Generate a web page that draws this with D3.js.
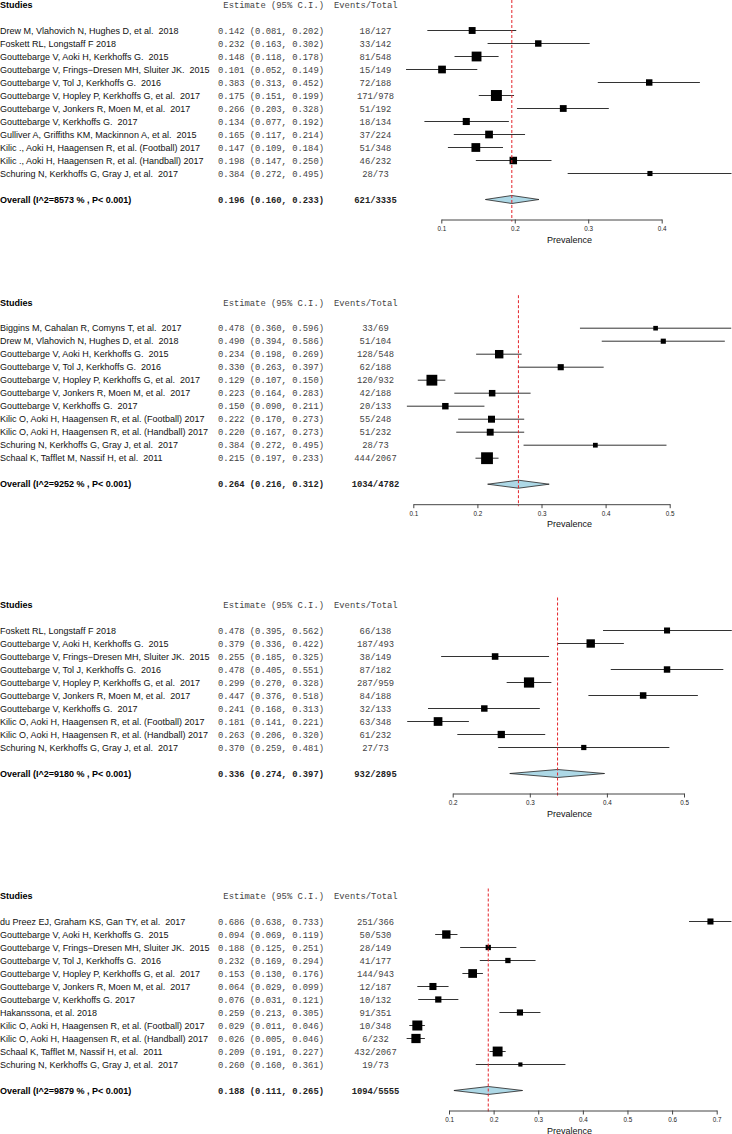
<!DOCTYPE html>
<html>
<head>
<meta charset="utf-8">
<script src="https://cdn.jsdelivr.net/npm/d3@7"></script>
<style>
  html, body { margin: 0; padding: 0; background: #fff; }
  svg text { white-space: pre; }
</style>
</head>
<body>
<div id="chart"></div>
<script>
// ---------------- DATA ----------------
// Panel 1
const p1Studies = [
  "Drew M, Vlahovich N, Hughes D, et al.  2018",
  "Foskett RL, Longstaff F 2018",
  "Gouttebarge V, Aoki H, Kerkhoffs G.  2015",
  "Gouttebarge V, Frings\u2212Dresen MH, Sluiter JK.  2015",
  "Gouttebarge V, Tol J, Kerkhoffs G.  2016",
  "Gouttebarge V, Hopley P, Kerkhoffs G, et al.  2017",
  "Gouttebarge V, Jonkers R, Moen M, et al.  2017",
  "Gouttebarge V, Kerkhoffs G.  2017",
  "Gulliver A, Griffiths KM, Mackinnon A, et al.  2015",
  "Kilic ., Aoki H, Haagensen R, et al. (Football) 2017",
  "Kilic ., Aoki H, Haagensen R, et al. (Handball) 2017",
  "Schuring N, Kerkhoffs G, Gray J, et al.  2017"
];
const p1Est = [0.142, 0.232, 0.148, 0.101, 0.383, 0.175, 0.266, 0.134, 0.165, 0.147, 0.198, 0.384];
const p1Lo  = [0.081, 0.163, 0.118, 0.052, 0.313, 0.151, 0.203, 0.077, 0.117, 0.109, 0.147, 0.272];
const p1Hi  = [0.202, 0.302, 0.178, 0.149, 0.452, 0.199, 0.328, 0.192, 0.214, 0.184, 0.250, 0.495];
const p1Events = [18, 33, 81, 15, 72, 171, 51, 18, 37, 51, 46, 28];
const p1Totals = [127, 142, 548, 149, 188, 978, 192, 134, 224, 348, 232, 73];
const p1Overall = { est: 0.196, lo: 0.160, hi: 0.233, events: 621, total: 3335, i2: "8573" };
const p1Ticks = [0.1, 0.2, 0.3, 0.4];

// Panel 2
const p2Studies = [
  "Biggins M, Cahalan R, Comyns T, et al.  2017",
  "Drew M, Vlahovich N, Hughes D, et al.  2018",
  "Gouttebarge V, Aoki H, Kerkhoffs G.  2015",
  "Gouttebarge V, Tol J, Kerkhoffs G.  2016",
  "Gouttebarge V, Hopley P, Kerkhoffs G, et al.  2017",
  "Gouttebarge V, Jonkers R, Moen M, et al.  2017",
  "Gouttebarge V, Kerkhoffs G.  2017",
  "Kilic O, Aoki H, Haagensen R, et al. (Football) 2017",
  "Kilic O, Aoki H, Haagensen R, et al. (Handball) 2017",
  "Schuring N, Kerkhoffs G, Gray J, et al.  2017",
  "Schaal K, Tafflet M, Nassif H, et al.  2011"
];
const p2Est = [0.478, 0.490, 0.234, 0.330, 0.129, 0.223, 0.150, 0.222, 0.220, 0.384, 0.215];
const p2Lo  = [0.360, 0.394, 0.198, 0.263, 0.107, 0.164, 0.090, 0.170, 0.167, 0.272, 0.197];
const p2Hi  = [0.596, 0.586, 0.269, 0.397, 0.150, 0.283, 0.211, 0.273, 0.273, 0.495, 0.233];
const p2Events = [33, 51, 128, 62, 120, 42, 20, 55, 51, 28, 444];
const p2Totals = [69, 104, 548, 188, 932, 188, 133, 248, 232, 73, 2067];
const p2Overall = { est: 0.264, lo: 0.216, hi: 0.312, events: 1034, total: 4782, i2: "9252" };
const p2Ticks = [0.1, 0.2, 0.3, 0.4, 0.5];

// Panel 3
const p3Studies = [
  "Foskett RL, Longstaff F 2018",
  "Gouttebarge V, Aoki H, Kerkhoffs G.  2015",
  "Gouttebarge V, Frings\u2212Dresen MH, Sluiter JK.  2015",
  "Gouttebarge V, Tol J, Kerkhoffs G.  2016",
  "Gouttebarge V, Hopley P, Kerkhoffs G, et al.  2017",
  "Gouttebarge V, Jonkers R, Moen M, et al.  2017",
  "Gouttebarge V, Kerkhoffs G.  2017",
  "Kilic O, Aoki H, Haagensen R, et al. (Football) 2017",
  "Kilic O, Aoki H, Haagensen R, et al. (Handball) 2017",
  "Schuring N, Kerkhoffs G, Gray J, et al.  2017"
];
const p3Est = [0.478, 0.379, 0.255, 0.478, 0.299, 0.447, 0.241, 0.181, 0.263, 0.370];
const p3Lo  = [0.395, 0.336, 0.185, 0.405, 0.270, 0.376, 0.168, 0.141, 0.206, 0.259];
const p3Hi  = [0.562, 0.422, 0.325, 0.551, 0.328, 0.518, 0.313, 0.221, 0.320, 0.481];
const p3Events = [66, 187, 38, 87, 287, 84, 32, 63, 61, 27];
const p3Totals = [138, 493, 149, 182, 959, 188, 133, 348, 232, 73];
const p3Overall = { est: 0.336, lo: 0.274, hi: 0.397, events: 932, total: 2895, i2: "9180" };
const p3Ticks = [0.2, 0.3, 0.4, 0.5];

// Panel 4
const p4Studies = [
  "du Preez EJ, Graham KS, Gan TY, et al.  2017",
  "Gouttebarge V, Aoki H, Kerkhoffs G.  2015",
  "Gouttebarge V, Frings\u2212Dresen MH, Sluiter JK.  2015",
  "Gouttebarge V, Tol J, Kerkhoffs G.  2016",
  "Gouttebarge V, Hopley P, Kerkhoffs G, et al.  2017",
  "Gouttebarge V, Jonkers R, Moen M, et al.  2017",
  "Gouttebarge V, Kerkhoffs G. 2017",
  "Hakanssona, et al. 2018",
  "Kilic O, Aoki H, Haagensen R, et al. (Football) 2017",
  "Kilic O, Aoki H, Haagensen R, et al. (Handball) 2017",
  "Schaal K, Tafflet M, Nassif H, et al.  2011",
  "Schuring N, Kerkhoffs G, Gray J, et al.  2017"
];
const p4Est = [0.686, 0.094, 0.188, 0.232, 0.153, 0.064, 0.076, 0.259, 0.029, 0.026, 0.209, 0.260];
const p4Lo  = [0.638, 0.069, 0.125, 0.169, 0.130, 0.029, 0.031, 0.213, 0.011, 0.005, 0.191, 0.160];
const p4Hi  = [0.733, 0.119, 0.251, 0.294, 0.176, 0.099, 0.121, 0.305, 0.046, 0.046, 0.227, 0.361];
const p4Events = [251, 50, 28, 41, 144, 12, 10, 91, 10, 6, 432, 19];
const p4Totals = [366, 530, 149, 177, 943, 187, 132, 351, 348, 232, 2067, 73];
const p4Overall = { est: 0.188, lo: 0.111, hi: 0.265, events: 1094, total: 5555, i2: "9879" };
const p4Ticks = [0.1, 0.2, 0.3, 0.4, 0.5, 0.6, 0.7];

// ---------------- LAYOUT ----------------
const W = 732, H = 1134;
const panels = [
  { studies: p1Studies, est: p1Est, lo: p1Lo, hi: p1Hi, ev: p1Events, tot: p1Totals, overall: p1Overall, ticks: p1Ticks, top: 5,     range: [441.3, 661.7] },
  { studies: p2Studies, est: p2Est, lo: p2Lo, hi: p2Hi, ev: p2Events, tot: p2Totals, overall: p2Overall, ticks: p2Ticks, top: 302.7, range: [413.3, 669.7] },
  { studies: p3Studies, est: p3Est, lo: p3Lo, hi: p3Hi, ev: p3Events, tot: p3Totals, overall: p3Overall, ticks: p3Ticks, top: 605,   range: [452.7, 684] },
  { studies: p4Studies, est: p4Est, lo: p4Lo, hi: p4Hi, ev: p4Events, tot: p4Totals, overall: p4Overall, ticks: p4Ticks, top: 896,   range: [449, 716.7] }
];

const SANS = "'Liberation Sans', Arial, Helvetica, sans-serif";
const MONO = "'Liberation Mono', 'Courier New', monospace";
const fmt3 = d3.format(".3f");
const estText = (e, l, h) => `${fmt3(e)} (${fmt3(l)}, ${fmt3(h)})`;

const svg = d3.select("#chart").append("svg")
  .attr("width", W).attr("height", H)
  .attr("viewBox", `0 0 ${W} ${H}`);

svg.append("defs").append("clipPath").attr("id", "clip")
  .append("rect").attr("x", 0).attr("y", 0).attr("width", W).attr("height", H);

const ROW = 13;
const EST_RIGHT = 324;
const EV_CENTER = 375.5;
const EV_HEAD_X = 334;
const PREV_X = 569.5;
const MONO_COL = "#444";

panels.forEach(p => {
  const g = svg.append("g");
  const n = p.studies.length;
  const headY = p.top;
  const firstY = headY + 25.5;
  const rowsY = d3.range(n).map(i => firstY + i * ROW);
  const overallY = firstY + (n - 1) * ROW + 26;
  const axisY = overallY + 20;

  const x = d3.scaleLinear()
    .domain([p.ticks[0], p.ticks[p.ticks.length - 1]])
    .range(p.range);
  const pxPerTenth = x(0.2) - x(0.1);
  const boxSide = (l, h) => 0.28 * Math.sqrt(pxPerTenth / (h - l));

  // headers
  g.append("text").attr("x", 0).attr("y", headY + 3.3)
    .attr("font-family", SANS).attr("font-size", 9).attr("font-weight", "bold")
    .attr("fill", "#000").text("Studies");
  g.append("text").attr("x", EST_RIGHT).attr("y", headY + 3)
    .attr("text-anchor", "end")
    .attr("font-family", MONO).attr("font-size", 8.83).attr("fill", MONO_COL)
    .text("Estimate (95% C.I.)");
  g.append("text").attr("x", EV_HEAD_X).attr("y", headY + 3)
    .attr("font-family", MONO).attr("font-size", 8.83).attr("fill", MONO_COL)
    .text("Events/Total");

  // study labels
  g.selectAll("text.study").data(p.studies).join("text")
    .attr("class", "study")
    .attr("x", 0).attr("y", (d, i) => rowsY[i] + 3.2)
    .attr("font-family", SANS).attr("font-size", 9).attr("fill", "#111")
    .text(d => d);

  g.selectAll("text.est").data(p.est).join("text")
    .attr("class", "est")
    .attr("x", EST_RIGHT).attr("y", (d, i) => rowsY[i] + 3)
    .attr("text-anchor", "end")
    .attr("font-family", MONO).attr("font-size", 8.83).attr("fill", MONO_COL)
    .text((d, i) => estText(d, p.lo[i], p.hi[i]));

  g.selectAll("text.ev").data(p.ev).join("text")
    .attr("class", "ev")
    .attr("x", EV_CENTER).attr("y", (d, i) => rowsY[i] + 3)
    .attr("text-anchor", "middle")
    .attr("font-family", MONO).attr("font-size", 8.83).attr("fill", MONO_COL)
    .text((d, i) => `${d}/${p.tot[i]}`);

  // overall row text
  g.append("text").attr("x", 0).attr("y", overallY + 3.2)
    .attr("font-family", SANS).attr("font-size", 9).attr("font-weight", "bold")
    .attr("fill", "#000").text(`Overall (I^2=${p.overall.i2} % , P< 0.001)`);
  g.append("text").attr("x", EST_RIGHT).attr("y", overallY + 3)
    .attr("text-anchor", "end")
    .attr("font-family", MONO).attr("font-size", 8.83).attr("font-weight", "bold").attr("fill", "#222")
    .text(estText(p.overall.est, p.overall.lo, p.overall.hi));
  g.append("text").attr("x", EV_CENTER).attr("y", overallY + 3)
    .attr("text-anchor", "middle")
    .attr("font-family", MONO).attr("font-size", 8.83).attr("font-weight", "bold").attr("fill", "#222")
    .text(`${p.overall.events}/${p.overall.total}`);

  const plot = g.append("g").attr("clip-path", "url(#clip)");

  // CI lines
  plot.selectAll("line.ci").data(p.est).join("line")
    .attr("class", "ci")
    .attr("x1", (d, i) => x(p.lo[i])).attr("x2", (d, i) => x(p.hi[i]))
    .attr("y1", (d, i) => rowsY[i]).attr("y2", (d, i) => rowsY[i])
    .attr("stroke", "#333").attr("stroke-width", 1);

  // boxes
  plot.selectAll("rect.box").data(p.est).join("rect")
    .attr("class", "box")
    .attr("x", (d, i) => x(d) - boxSide(p.lo[i], p.hi[i]) / 2)
    .attr("y", (d, i) => rowsY[i] - boxSide(p.lo[i], p.hi[i]) / 2)
    .attr("width", (d, i) => boxSide(p.lo[i], p.hi[i]))
    .attr("height", (d, i) => boxSide(p.lo[i], p.hi[i]))
    .attr("fill", "#000");

  // diamond
  const o = p.overall;
  plot.append("path")
    .attr("d", `M${x(o.lo)},${overallY}L${x(o.est)},${overallY - 4}L${x(o.hi)},${overallY}L${x(o.est)},${overallY + 4}Z`)
    .attr("fill", "#add8e6").attr("stroke", "#222").attr("stroke-width", 0.8);

  // reference line
  plot.append("line")
    .attr("x1", x(o.est)).attr("x2", x(o.est))
    .attr("y1", Math.max(0, headY - 7.5)).attr("y2", axisY + 2)
    .attr("stroke", "#e3242b").attr("stroke-width", 1)
    .attr("stroke-dasharray", "3,2");

  // axis
  const axis = d3.axisBottom(x)
    .tickValues(p.ticks)
    .tickFormat(d3.format(".1f"))
    .tickSizeInner(4).tickSizeOuter(0).tickPadding(3);
  const ag = g.append("g").attr("transform", `translate(0,${axisY})`).call(axis);
  ag.select(".domain").attr("stroke", "#444").attr("stroke-width", 1);
  ag.selectAll(".tick line").attr("stroke", "#444");
  ag.selectAll(".tick text").attr("font-family", SANS).attr("font-size", 6.3).attr("fill", "#222");

  g.append("text").attr("x", PREV_X).attr("y", axisY + 23)
    .attr("text-anchor", "middle")
    .attr("font-family", SANS).attr("font-size", 9).attr("fill", "#111")
    .text("Prevalence");
});
</script>
</body>
</html>
